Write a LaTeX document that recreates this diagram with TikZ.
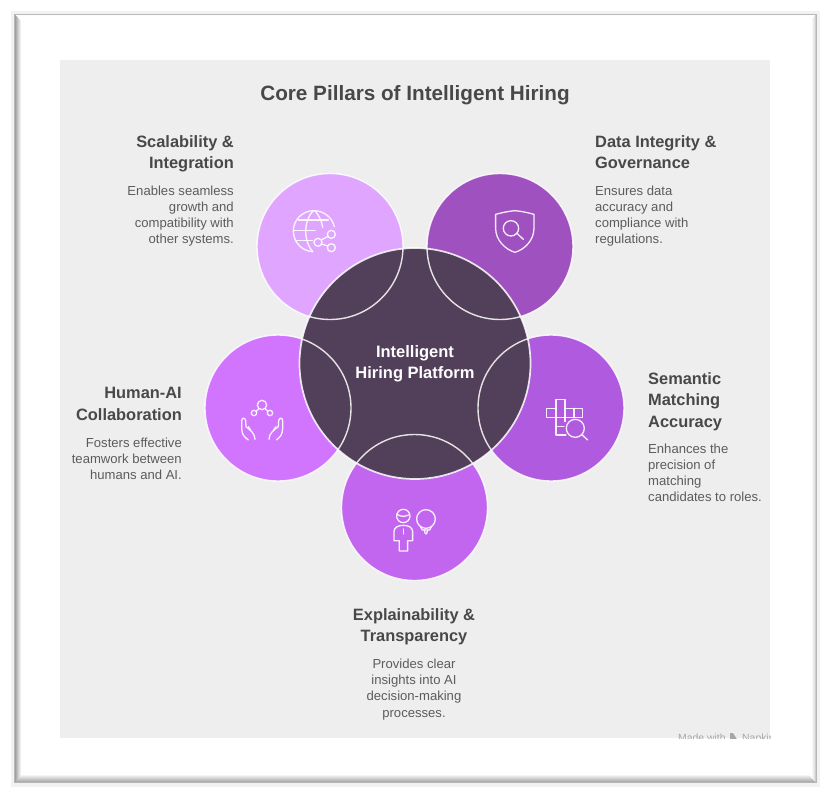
\documentclass[tikz,border=0pt]{standalone}
\usepackage{fontspec}
\setmainfont{Liberation Sans}
\definecolor{bgc}{HTML}{EEEEEE}
\definecolor{cTL}{HTML}{E0A6FF}
\definecolor{cTR}{HTML}{9F52BF}
\definecolor{cR}{HTML}{B05BDF}
\definecolor{cB}{HTML}{C266F0}
\definecolor{cL}{HTML}{D175FF}
\definecolor{cC}{HTML}{523F59}
\definecolor{headc}{HTML}{484848}
\definecolor{bodyc}{HTML}{5C5C5C}
\tikzset{
  pillar/.style={circle,minimum size=146pt,inner sep=0pt,outer sep=0pt},
  hub/.style={circle,minimum size=231pt,inner sep=0pt,outer sep=0pt,fill=cC},
  ring/.style={draw=white,line width=1.4pt,opacity=.85},
  head/.style={font=\fontsize{16.4}{21.5}\selectfont\bfseries,text=headc,inner sep=0pt},
  body/.style={font=\fontsize{13.1}{16.1}\selectfont,text=bodyc,inner sep=0pt},
  icon/.style={draw=white,line width=1.3pt,line cap=round,line join=round,opacity=.9},
  zm/.style={x=0.3333pt,y=-0.3333pt}
}
\begin{document}
\begin{tikzpicture}[x=1pt,y=-1pt]
\useasboundingbox (0,0) rectangle (830,798);
\fill[white] (0,0) rectangle (830,798);
% frame
\draw[draw=black!5,line width=4pt] (12.5,12.5) rectangle (818,785);
\draw[draw=black!28,line width=1.5pt] (15,14.5) rectangle (816,782.5);
\shade[top color=white,bottom color=black!36] (22,774) -- (808,774) -- (815.5,782) -- (15,782) -- cycle;
\shade[left color=black!34,right color=white] (15.5,15) -- (21,21) -- (21,775) -- (15.5,782) -- cycle;
\shade[left color=white,right color=black!16] (811,20) -- (815.5,15) -- (815.5,782) -- (811,777) -- cycle;
\fill[white] (21,16) rectangle (811,774);
\fill[bgc] (60,60) rectangle (770,738);
% watermark
\begin{scope}
\clip (60,60) rectangle (770,738);
\node[anchor=base west,inner sep=0pt,font=\fontsize{10.4}{12}\selectfont,text=black!35] (mark) at (678,741.5) {Made with};
\fill[black!35] (730,733) -- (733,733) -- (738,741) -- (730,741) -- cycle;
\node[anchor=base west,inner sep=0pt,font=\fontsize{10.4}{12}\selectfont,text=black!35] (mark2) at (742,741.5) {Napkin};
\end{scope}
% title
\node[font=\fontsize{20.7}{26}\selectfont\bfseries,text=headc,inner sep=0pt] (title) at (415,95) {Core Pillars of Intelligent Hiring};
% circles
\node[pillar,fill=cTL] (p1) at (330,246.5) {};
\node[pillar,fill=cTR] (p2) at (500,246.5) {};
\node[pillar,fill=cR] (p3) at (551,408) {};
\node[pillar,fill=cB] (p4) at (414.5,507.5) {};
\node[pillar,fill=cL] (p5) at (278,408) {};
\node[hub] (hubc) at (415,363.5) {};
\draw[ring] (330,246.5) circle (73);
\draw[ring] (500,246.5) circle (73);
\draw[ring] (551,408) circle (73);
\draw[ring] (414.5,507.5) circle (73);
\draw[ring] (278,408) circle (73);
\draw[ring,line width=1.7pt] (415,363.5) circle (115.5);
\node[align=center,font=\fontsize{16.5}{21.5}\selectfont\bfseries,text=white,inner sep=0pt] (hublabel) at (415,364) {Intelligent\\Hiring Platform};
% labels
\node[head,align=right,anchor=north east] (h1) at (234,135) {Scalability \&\\Integration};
\node[body,align=right,anchor=north east] (b1) at (234,186) {Enables seamless\\growth and\\compatibility with\\other systems.};
\node[head,align=left,anchor=north west] (h2) at (595,135) {Data Integrity \&\\Governance};
\node[body,align=left,anchor=north west] (b2) at (595,186) {Ensures data\\accuracy and\\compliance with\\regulations.};
\node[head,align=left,anchor=north west] (h3) at (648,372) {Semantic\\Matching\\Accuracy};
\node[body,align=left,anchor=north west] (b3) at (648,444) {Enhances the\\precision of\\matching\\candidates to roles.};
\node[head,align=center,anchor=north] (h4) at (414,608) {Explainability \&\\Transparency};
\node[body,align=center,anchor=north] (b4) at (414,659) {Provides clear\\insights into AI\\decision-making\\processes.};
\node[head,align=right,anchor=north east] (h5) at (182,387.5) {Human-AI\\Collaboration};
\node[body,align=right,anchor=north east] (b5) at (182,438) {Fosters effective\\teamwork between\\humans and AI.};
% icon: globe + share
\begin{scope}[shift={(250,170)},zm]
\draw[icon] (188,245) .. controls (155,243) and (130,216) .. (130,183) .. controls (130,150) and (157,122) .. (191,122) .. controls (222,122) and (247,143) .. (253,170);
\draw[icon] (190,122) .. controls (160,150) and (160,215) .. (188,245);
\draw[icon] (195,122) .. controls (205,135) and (215,150) .. (218,172);
\draw[icon] (145,150) -- (235,150);
\draw[icon] (132,182) -- (195,182);
\draw[icon] (138,212) -- (188,212);
\draw[icon] (244,193) circle (12);
\draw[icon] (204,217) circle (12);
\draw[icon] (244,233) circle (12);
\draw[icon] (214,210) -- (234,199);
\draw[icon] (215,222) -- (233,228);
\end{scope}
% icon: shield
\begin{scope}[shift={(250,170)},zm]
\draw[icon] (737,133) .. controls (760,127) and (775,124) .. (795,122) .. controls (815,124) and (830,127) .. (852,133) -- (852,175) .. controls (852,210) and (825,238) .. (795,247) .. controls (765,238) and (737,210) .. (737,175) -- cycle;
\draw[icon] (783,175) circle (23);
\draw[icon] (801,190) -- (820,208);
\end{scope}
% icon: crossword + magnifier
\begin{scope}[shift={(200,380)},zm]
\draw[icon] (1068,85) -- (1068,58) -- (1095,58) -- (1095,85) -- (1148,85) -- (1148,113) -- (1040,113) -- (1040,85) -- cycle;
\draw[icon] (1068,85) -- (1068,165) -- (1098,165);
\draw[icon] (1095,85) -- (1095,113);
\draw[icon] (1095,113) -- (1095,125);
\draw[icon] (1068,140) -- (1092,140);
\draw[icon] (1122,85) -- (1122,113);
\draw[icon] (1126,145) circle (27);
\draw[icon] (1146,164) -- (1163,180);
\end{scope}
% icon: person + bulb
\begin{scope}[shift={(200,380)},zm]
\draw[icon] (610,408) circle (20);
\draw[icon] (591,403) .. controls (605,412) and (618,410) .. (629,403);
\draw[icon] (598,513) -- (598,482) -- (582,482) -- (582,455) .. controls (582,442) and (595,436) .. (610,436) .. controls (625,436) and (638,442) .. (638,455) -- (638,482) -- (623,482) -- (623,513) -- cycle;
\draw[icon] (610,447) -- (610,462);
\draw[icon] (678,417) circle (28);
\draw[icon] (662,441) -- (667,450) -- (689,450) -- (694,441);
\draw[icon] (673,450) -- (676,461) -- (680,461) -- (683,450);
\end{scope}
% icon: hands
\begin{scope}[shift={(200,380)},zm]
\draw[icon] (186,75) circle (14);
\draw[icon] (162,99) circle (8);
\draw[icon] (210,99) circle (8);
\draw[icon] (169,94) -- (176,86);
\draw[icon] (203,94) -- (196,86);
\draw[icon] (145,180) .. controls (135,172) and (125,165) .. (125,145) -- (125,122) .. controls (126,112) and (135,112) .. (137,122) -- (138,140) .. controls (150,150) and (165,160) .. (165,178);
\draw[icon] (145,140) -- (152,150);
\draw[icon] (229,180) .. controls (239,172) and (248,165) .. (248,145) -- (248,122) .. controls (247,112) and (238,112) .. (236,122) -- (235,140) .. controls (222,150) and (207,160) .. (207,178);
\draw[icon] (228,140) -- (221,150);
\end{scope}
\end{tikzpicture}
\end{document}
